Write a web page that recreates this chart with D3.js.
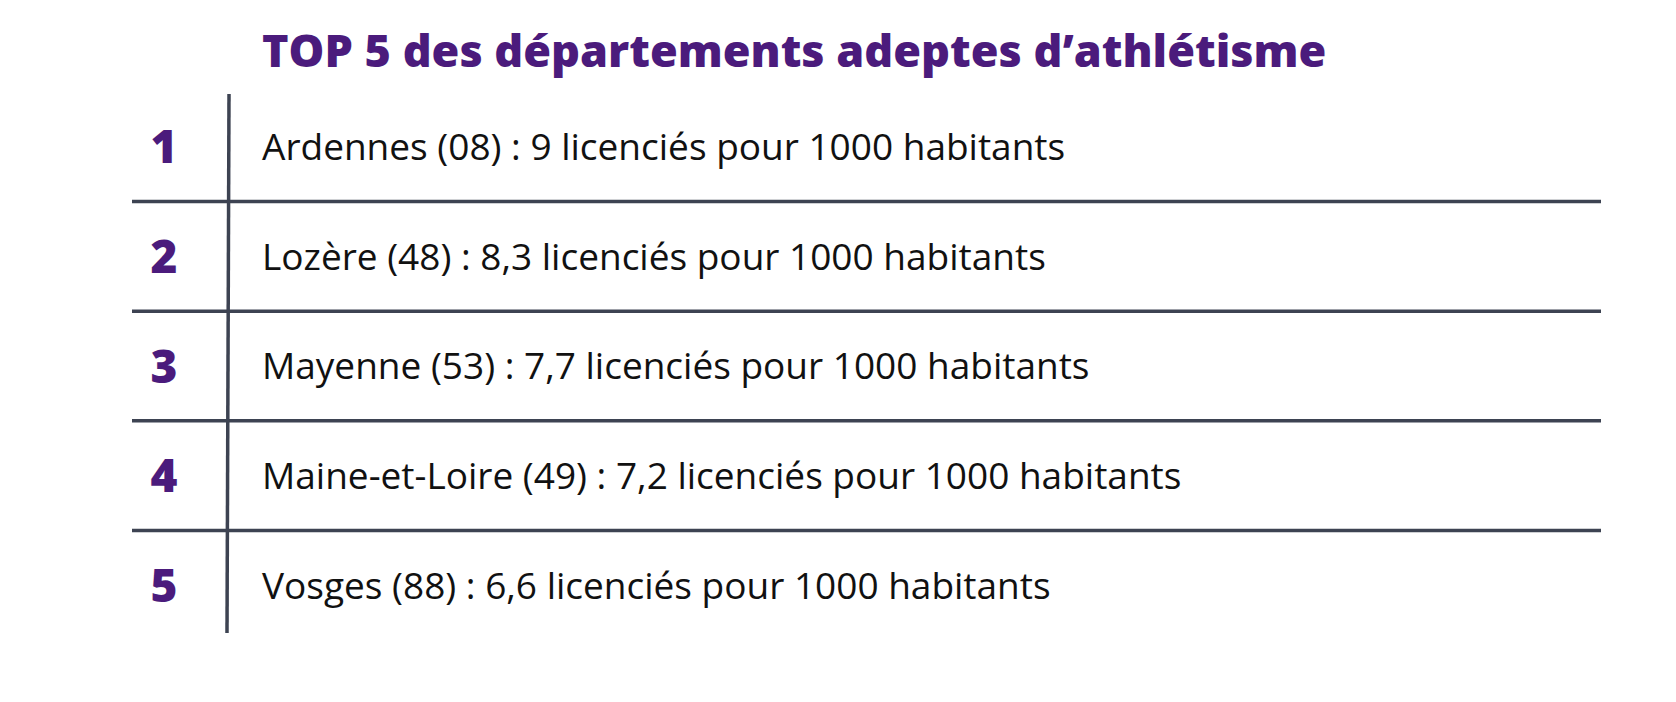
<!DOCTYPE html>
<html><head><meta charset="utf-8">
<script src="https://cdn.jsdelivr.net/npm/d3@7"></script>
<style>body{margin:0;background:#fff}</style>
</head><body>
<script>
const ranks = [1, 2, 3, 4, 5]
const departements = ["Ardennes", "Lozère", "Mayenne", "Maine-et-Loire", "Vosges"]
const codes = ["08", "48", "53", "49", "88"]
const values = ["9", "8,3", "7,7", "7,2", "6,6"]
const title = "TOP 5 des départements adeptes d’athlétisme"

const width = 1676, height = 702
const svg = d3.select("body").append("svg").attr("width", width).attr("height", height)

// row bands
const y = d3.scaleBand().domain(ranks).range([92, 640]).padding(0)

svg.append("text")
  .attr("x", 262).attr("y", 67)
  .style("font-family", "'Open Sans', sans-serif").style("font-weight", 800)
  .style("font-size", "45px").style("fill", "#4b1b7c")
  .text(title)

// horizontal separators
svg.selectAll("line.sep").data(ranks.slice(1)).enter().append("line")
  .attr("x1", 132).attr("x2", 1601)
  .attr("y1", d => y(d)).attr("y2", d => y(d))
  .style("stroke", "#3d4352").style("stroke-width", 3.5)

// vertical separator
svg.append("line")
  .attr("x1", 229).attr("x2", 227)
  .attr("y1", 94).attr("y2", 633)
  .style("stroke", "#3d4352").style("stroke-width", 3.5)

const rows = svg.selectAll("g.row").data(ranks).enter().append("g")
  .attr("transform", d => `translate(0, ${y(d) + y.bandwidth() / 2})`)

rows.append("text")
  .attr("x", 164).attr("y", 0).attr("dy", "0.36em")
  .attr("text-anchor", "middle")
  .style("font-family", "'Open Sans', sans-serif").style("font-weight", 800)
  .style("font-size", "46px").style("fill", "#4b1b7c")
  .text(d => d)

rows.append("text")
  .attr("x", 262).attr("y", 0).attr("dy", "0.36em")
  .style("font-family", "'Open Sans', sans-serif").style("font-weight", 500)
  .style("font-size", "37px").style("fill", "#111")
  .text((d, i) => `${departements[i]} (${codes[i]}) : ${values[i]} licenciés pour 1000 habitants`)
</script>
</body></html>
